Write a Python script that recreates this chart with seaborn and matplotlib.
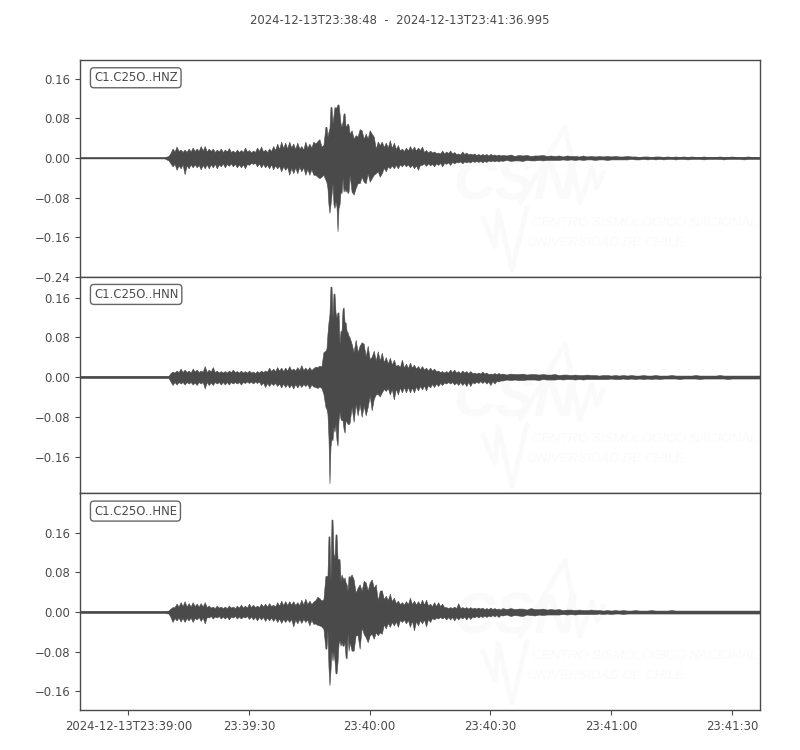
import numpy as np
import pandas as pd
import matplotlib
matplotlib.use("Agg")
import matplotlib.pyplot as plt
import seaborn as sns

title = "2024-12-13T23:38:48  -  2024-12-13T23:41:36.995"
xticks = [12, 42, 72, 102, 132, 162]
xticklabels = ["2024-12-13T23:39:00", "23:39:30", "23:40:00", "23:40:30", "23:41:00", "23:41:30"]
yticks = [-0.24, -0.16, -0.08, 0.0, 0.08, 0.16]

# seconds after 23:38:48, read finer around the strong motion
t = np.concatenate([
    [0, 5, 10, 15, 20, 21],
    np.arange(22, 58, 0.5),
    np.arange(58, 61, 0.5),
    np.arange(61, 67, 0.25),
    np.arange(67, 75, 0.5),
    np.arange(75, 105, 0.5),
    np.arange(105, 169, 1.0),
    [169],
])

# envelope of each trace, thousandths of the axis unit, lower side as magnitude
hnz_up = [1, 1, 1, 1, 1, 1,
          4, 10, 19, 13, 23, 14, 17, 12, 17, 12, 19, 13,
          21, 14, 19, 14, 24, 15, 24, 13, 19, 14, 19, 12,
          17, 13, 19, 12, 17, 13, 20, 12, 15, 11, 17, 12,
          16, 12, 21, 13, 16, 11, 15, 12, 21, 14, 23, 13,
          17, 12, 19, 14, 24, 16, 29, 18, 33, 20, 31, 19,
          33, 21, 29, 18, 31, 19, 24, 17, 33, 20, 29, 21,
          33, 29, 34, 38, 23, 26,
          63, 63, 43, 53, 60, 103, 103, 70, 86, 103, 101, 103,
          108, 108, 90, 70, 63, 73, 90, 90, 63, 66, 70, 66,
          49, 56, 39, 46, 43, 58, 56, 39, 49, 39, 56, 49, 43, 19, 33, 26,
          33, 22, 31, 21, 36, 20, 31, 18, 26, 15, 19, 14,
          21, 15, 24, 16, 23, 15, 21, 16, 23, 12, 16, 11,
          15, 11, 13, 10, 11, 9, 15, 9, 13, 10, 15, 9,
          12, 8, 9, 7, 13, 8, 11, 7, 9, 7, 9, 6,
          8, 6, 8, 6, 8, 5, 8, 6, 7, 5, 7, 5,
          6, 5, 7, 4, 6, 5, 6, 4, 5, 5, 6, 4, 5,
          4, 5, 3, 5, 4, 4, 3, 5, 3, 4, 3, 4, 3,
          4, 3, 4, 3, 3, 4, 3, 3, 2, 3, 3, 2, 3,
          3, 2, 3, 2, 3, 2, 3, 2, 3, 2, 2, 3, 2,
          2, 2, 3, 2, 2, 3, 2, 2, 2, 3, 2, 2, 2]
hnz_low = [1, 1, 1, 1, 1, 1,
           5, 11, 17, 12, 24, 15, 21, 13, 33, 15, 21, 13,
           19, 13, 19, 14, 23, 14, 21, 13, 21, 13, 19, 12,
           21, 13, 17, 11, 19, 12, 16, 11, 17, 12, 19, 13,
           19, 13, 21, 12, 14, 10, 12, 10, 17, 11, 19, 12,
           19, 14, 21, 13, 23, 15, 21, 16, 27, 17, 24, 18,
           34, 20, 31, 19, 31, 18, 27, 19, 34, 22, 34, 23,
           34, 34, 38, 41, 38, 34,
           44, 49, 61, 94, 111, 94, 74, 51, 94, 101, 88, 98,
           148, 101, 94, 68, 71, 41, 68, 61, 68, 64, 71, 68,
           34, 68, 74, 61, 51, 51, 38, 48, 51, 31, 48, 41, 34, 31, 27, 38,
           31, 20, 27, 17, 21, 15, 21, 14, 21, 13, 17, 12,
           17, 13, 19, 14, 21, 15, 24, 14, 14, 11, 16, 11,
           15, 12, 17, 11, 14, 10, 17, 10, 12, 9, 14, 8,
           11, 8, 9, 7, 11, 7, 9, 7, 9, 6, 8, 6,
           8, 6, 9, 6, 8, 5, 7, 5, 7, 5, 7, 5,
           6, 4, 6, 5, 5, 6, 4, 5, 5, 4, 5, 4, 4,
           4, 4, 3, 4, 3, 4, 3, 4, 3, 3, 4, 3, 3,
           4, 3, 3, 3, 3, 3, 2, 3, 3, 2, 3, 2, 3,
           2, 3, 2, 2, 3, 2, 2, 3, 2, 2, 2, 3, 2,
           2, 2, 2, 3, 2, 2, 2, 2, 3, 2, 2, 2, 2]

hnn_up = [2, 2, 2, 2, 2, 2,
          2, 8, 11, 9, 13, 10, 17, 10, 15, 10, 13, 9,
          17, 11, 15, 10, 13, 11, 22, 10, 15, 11, 20, 10,
          13, 9, 12, 9, 12, 9, 13, 10, 15, 10, 12, 9,
          13, 9, 12, 9, 13, 9, 11, 8, 12, 9, 13, 10,
          13, 11, 19, 12, 17, 12, 20, 13, 19, 12, 19, 13,
          22, 14, 17, 13, 20, 14, 24, 14, 19, 14, 20, 14,
          18, 21, 20, 23, 21, 50,
          53, 57, 87, 110, 127, 182, 182, 120, 168, 168, 130, 120,
          130, 130, 67, 93, 93, 137, 140, 110, 110, 93, 90, 83,
          80, 67, 50, 75, 50, 63, 70, 67, 41, 63, 36, 41, 53, 33, 52, 33,
          49, 30, 40, 27, 39, 25, 35, 22, 25, 20, 35, 19,
          27, 18, 29, 19, 25, 17, 22, 16, 22, 15, 19, 13,
          19, 13, 17, 12, 13, 10, 12, 9, 12, 9, 15, 10,
          15, 9, 12, 8, 13, 9, 12, 8, 12, 8, 9, 7,
          9, 7, 11, 7, 9, 6, 7, 6, 8, 6, 8, 6,
          7, 5, 7, 6, 6, 7, 5, 6, 6, 5, 6, 5, 5,
          6, 4, 5, 5, 4, 5, 4, 4, 5, 4, 4, 3, 4,
          4, 3, 4, 3, 4, 3, 4, 3, 3, 4, 3, 3, 4,
          3, 3, 3, 4, 3, 3, 3, 3, 3, 4, 3, 3, 3,
          3, 3, 4, 3, 3, 3, 3, 3, 3, 3, 3, 3, 3]
hnn_low = [2, 2, 2, 2, 2, 2,
           2, 9, 16, 10, 15, 10, 13, 10, 15, 10, 13, 10,
           15, 11, 16, 10, 13, 10, 23, 10, 16, 11, 16, 10,
           13, 10, 15, 10, 15, 10, 15, 10, 13, 10, 13, 10,
           15, 10, 12, 9, 12, 9, 13, 9, 12, 9, 16, 11,
           20, 12, 18, 12, 16, 12, 18, 13, 21, 13, 20, 14,
           21, 15, 23, 14, 21, 14, 20, 14, 18, 14, 23, 15,
           19, 20, 22, 19, 22, 34,
           60, 64, 74, 121, 214, 140, 124, 127, 100, 110, 94, 127,
           138, 87, 70, 84, 87, 87, 104, 112, 87, 90, 94, 95,
           92, 60, 90, 54, 77, 54, 80, 57, 77, 60, 37, 67, 44, 35, 34, 39,
           31, 24, 28, 22, 35, 24, 45, 23, 35, 21, 31, 20,
           31, 20, 31, 21, 31, 19, 27, 18, 25, 17, 27, 16,
           21, 14, 20, 13, 18, 12, 16, 11, 13, 10, 13, 10,
           15, 11, 16, 10, 16, 11, 18, 10, 18, 10, 13, 9,
           12, 8, 12, 8, 13, 9, 16, 8, 13, 8, 9, 7,
           7, 5, 6, 5, 6, 6, 5, 5, 5, 6, 4, 5, 5,
           5, 4, 5, 4, 4, 5, 4, 5, 4, 4, 4, 4, 4,
           4, 3, 4, 4, 3, 4, 3, 4, 3, 4, 3, 4, 3,
           4, 3, 3, 3, 3, 4, 3, 3, 3, 3, 4, 3, 3,
           3, 3, 3, 3, 4, 3, 3, 3, 3, 3, 3, 3, 3]

hne_up = [2, 2, 2, 2, 2, 2,
          3, 7, 10, 10, 17, 11, 20, 12, 22, 11, 18, 11,
          20, 12, 17, 11, 18, 11, 20, 10, 13, 9, 11, 8,
          13, 9, 11, 8, 11, 8, 13, 9, 11, 8, 13, 9,
          15, 9, 13, 9, 17, 10, 15, 10, 13, 10, 17, 11,
          17, 11, 18, 12, 15, 11, 20, 13, 23, 14, 22, 14,
          22, 15, 22, 14, 20, 14, 25, 15, 27, 16, 23, 16,
          21, 24, 31, 28, 23, 26,
          73, 73, 73, 153, 153, 63, 187, 187, 117, 110, 157, 157,
          107, 107, 107, 63, 76, 70, 66, 70, 60, 56, 43, 73,
          70, 76, 66, 39, 49, 56, 43, 63, 60, 43, 60, 66, 49, 56, 23, 43,
          44, 26, 33, 24, 37, 22, 29, 18, 23, 16, 20, 15,
          22, 16, 29, 16, 23, 15, 22, 15, 25, 15, 25, 13,
          17, 12, 20, 12, 20, 12, 17, 10, 10, 8, 10, 8,
          11, 8, 18, 8, 10, 8, 10, 7, 10, 7, 9, 7,
          9, 7, 9, 6, 8, 6, 9, 6, 8, 6, 7, 5,
          8, 6, 8, 6, 7, 7, 5, 8, 6, 6, 7, 5, 6,
          5, 6, 4, 5, 5, 4, 5, 4, 4, 5, 4, 4, 3,
          4, 3, 4, 3, 4, 3, 3, 4, 3, 3, 3, 4, 3,
          3, 3, 3, 4, 3, 3, 3, 3, 3, 3, 3, 3, 3,
          3, 3, 3, 3, 3, 3, 3, 3, 3, 3, 3, 3, 3]
hne_low = [2, 2, 2, 2, 2, 2,
           3, 10, 20, 12, 17, 11, 19, 12, 20, 12, 17, 11,
           20, 12, 15, 10, 18, 11, 23, 10, 11, 8, 13, 9,
           11, 8, 13, 9, 13, 9, 15, 9, 11, 8, 13, 9,
           13, 9, 11, 8, 14, 9, 15, 10, 17, 10, 15, 10,
           18, 11, 17, 11, 18, 12, 20, 13, 22, 14, 20, 14,
           20, 14, 29, 15, 23, 14, 22, 14, 20, 15, 27, 16,
           24, 23, 26, 27, 29, 34,
           74, 74, 37, 111, 148, 118, 78, 98, 81, 98, 124, 124,
           101, 64, 57, 68, 61, 68, 68, 61, 91, 94, 44, 78,
           61, 78, 78, 47, 47, 74, 31, 44, 51, 61, 47, 44, 54, 41, 47, 41,
           44, 25, 33, 22, 30, 20, 27, 19, 30, 16, 20, 15,
           23, 16, 30, 17, 37, 18, 27, 16, 23, 15, 29, 14,
           20, 12, 15, 11, 13, 10, 13, 10, 15, 10, 15, 10,
           17, 10, 15, 10, 13, 9, 15, 9, 14, 9, 11, 8,
           11, 8, 10, 7, 10, 7, 9, 6, 9, 6, 10, 6,
           7, 5, 8, 6, 7, 8, 5, 6, 7, 5, 6, 5, 5,
           5, 5, 4, 5, 4, 5, 4, 4, 4, 4, 4, 3, 4,
           3, 4, 3, 3, 4, 3, 3, 3, 3, 3, 3, 3, 3,
           3, 3, 3, 3, 3, 3, 3, 3, 3, 3, 3, 3, 3,
           3, 3, 3, 3, 3, 3, 3, 3, 3, 3, 3, 3, 3]

labels = ["C1.C25O..HNZ", "C1.C25O..HNN", "C1.C25O..HNE"]
uppers = [hnz_up, hnn_up, hne_up]
lowers = [hnz_low, hnn_low, hne_low]
ylims = [(-0.24, 0.198), (-0.234, 0.202), (-0.198, 0.24)]

ink = "#4a4a4a"
sns.set_style("ticks")
plt.rcParams["font.family"] = ["DejaVu Sans"]
plt.rcParams["font.size"] = 8.4

fig, axes = plt.subplots(3, 1, sharex=True, figsize=(8, 7.5), dpi=100)
fig.subplots_adjust(left=0.1, right=0.95, top=1 - 60 / 750, bottom=1 - 710 / 750, hspace=0)


def watermark(ax):
    # faint logo, positions in pixels from the panel's top left
    def px(x, y):
        return x / 680, 1 - y / 217
    wm = "#fafafa"
    for pts, lw in [([(440, 143), (485, 67), (500, 143), (512, 108), (517, 128), (523, 113)], 3.5),
                    ([(403, 158), (415, 187), (418, 150), (432, 210), (447, 148)], 3.5)]:
        xs, ys = zip(*[px(*p) for p in pts])
        ax.plot(xs, ys, color=wm, lw=lw, transform=ax.transAxes, zorder=0)
    x, y = px(373, 152)
    ax.text(x, y, "CSN", color=wm, fontsize=42, style="italic", weight="bold", family="Liberation Sans",
            transform=ax.transAxes, va="bottom", ha="left", zorder=0)
    x, y = px(452, 163)
    ax.text(x, y, "CENTRO SISMOLÓGICO NACIONAL", color=wm, fontsize=9.5, style="italic", family="Liberation Sans",
            transform=ax.transAxes, va="center", ha="left", zorder=0)
    x, y = px(448, 183)
    ax.text(x, y, "UNIVERSIDAD DE CHILE", color=wm, fontsize=9.5, style="italic", family="Liberation Sans",
            transform=ax.transAxes, va="center", ha="left", zorder=0)


for ax, label, up, low, ylim in zip(axes, labels, uppers, lowers, ylims):
    trace = pd.DataFrame({
        "t": np.concatenate([t, t]),
        "amp": np.concatenate([np.array(up), -np.array(low)]) / 1000,
    })
    watermark(ax)
    sns.lineplot(data=trace, x="t", y="amp", ax=ax, color=ink, lw=1.0,
                 errorbar=lambda v: (v.min(), v.max()),
                 err_kws={"alpha": 1, "linewidth": 0.4}, legend=False)
    ax.set_xlim(0, 168.995)
    ax.set_ylim(*ylim)
    ax.set_yticks([v for v in yticks if ylim[0] <= v <= 0.17])
    ax.set_yticklabels([f"{v:.2f}".replace("-", "\u2212") for v in yticks if ylim[0] <= v <= 0.17])
    ax.set_xlabel("")
    ax.set_ylabel("")
    ax.tick_params(colors=ink, labelsize=8.4, length=3.5, width=0.8)
    for s in ax.spines.values():
        s.set_color(ink)
        s.set_linewidth(1.0)
    ax.text(0.0205, 0.918, label, transform=ax.transAxes, color=ink, fontsize=8.4, va="center", ha="left",
            bbox=dict(boxstyle="round,pad=0.3", fc="white", ec="#666666", lw=1.0))

axes[2].set_xticks(xticks)
axes[2].set_xticklabels(xticklabels)
fig.text(0.5, 1 - 20.5 / 750, title, ha="center", va="center", color=ink, fontsize=8.4)

fig.savefig("out.png", dpi=100)
